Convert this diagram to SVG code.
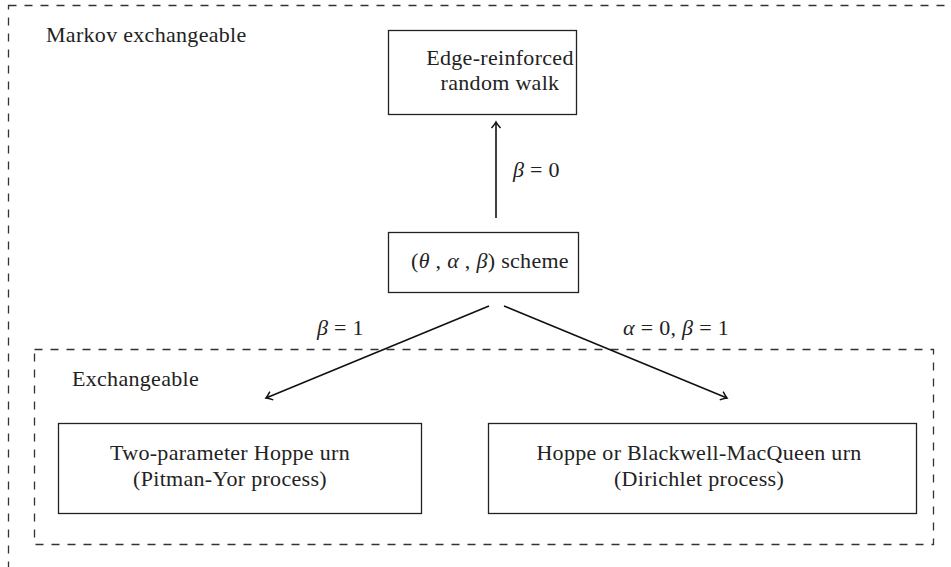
<svg xmlns="http://www.w3.org/2000/svg" width="951" height="567" viewBox="0 0 951 567">
<defs>
<style>
.t{font-family:'Liberation Serif','DejaVu Serif',serif;font-size:22px;letter-spacing:0.3px;fill:#222;}
.m{font-style:italic;}
.box{fill:#fff;stroke:#222;stroke-width:1.3;}
.dash{fill:none;stroke:#333;stroke-width:1.3;stroke-dasharray:8 8;}
.edge{fill:none;stroke:#111;stroke-width:1.6;}
</style>
<marker id="arr" viewBox="-10 -6 12 12" refX="0" refY="0" markerWidth="12" markerHeight="12" markerUnits="userSpaceOnUse" orient="auto">
<path d="M-6,-4.5 Q-2,-1 0,0 Q-2,1 -6,4.5" fill="none" stroke="#111" stroke-width="1.5"/>
</marker>
</defs>
<rect width="951" height="567" fill="#fff"/>
<g id="markov-region">
<rect class="dash" x="8.5" y="5.5" width="970" height="600"/>
<text class="t" x="46" y="42">Markov exchangeable</text>
</g>
<g id="exchangeable-region">
<rect class="dash" x="34.5" y="349.5" width="899" height="195"/>
<text class="t" x="72" y="386">Exchangeable</text>
</g>
<g id="edges">
<line class="edge" x1="496" y1="218" x2="496" y2="122" marker-end="url(#arr)"/>
<line class="edge" x1="489" y1="306" x2="266" y2="398" marker-end="url(#arr)"/>
<line class="edge" x1="504" y1="306" x2="727" y2="398" marker-end="url(#arr)"/>
<text class="t" x="513" y="177"><tspan class="m">β</tspan> = 0</text>
<text class="t" x="317" y="335"><tspan class="m">β</tspan> = 1</text>
<text class="t" x="623" y="335"><tspan class="m">α</tspan> = 0, <tspan class="m">β</tspan> = 1</text>
</g>
<g id="erw">
<rect class="box" x="388.5" y="30.5" width="188" height="84"/>
<text class="t" x="500" y="65" text-anchor="middle">Edge-reinforced</text>
<text class="t" x="500" y="90" text-anchor="middle">random walk</text>
</g>
<g id="scheme">
<rect class="box" x="388.5" y="232.5" width="190" height="60"/>
<text class="t" x="490" y="268" text-anchor="middle">(<tspan class="m">θ</tspan> , <tspan class="m">α</tspan> , <tspan class="m">β</tspan>) scheme</text>
</g>
<g id="hoppe2">
<rect class="box" x="58.5" y="423.5" width="363" height="90"/>
<text class="t" x="230" y="460" text-anchor="middle">Two-parameter Hoppe urn</text>
<text class="t" x="230" y="486" text-anchor="middle">(Pitman-Yor process)</text>
</g>
<g id="hoppe">
<rect class="box" x="488.5" y="423.5" width="428" height="90"/>
<text class="t" x="699" y="460" text-anchor="middle">Hoppe or Blackwell-MacQueen urn</text>
<text class="t" x="699" y="486" text-anchor="middle">(Dirichlet process)</text>
</g>
</svg>
